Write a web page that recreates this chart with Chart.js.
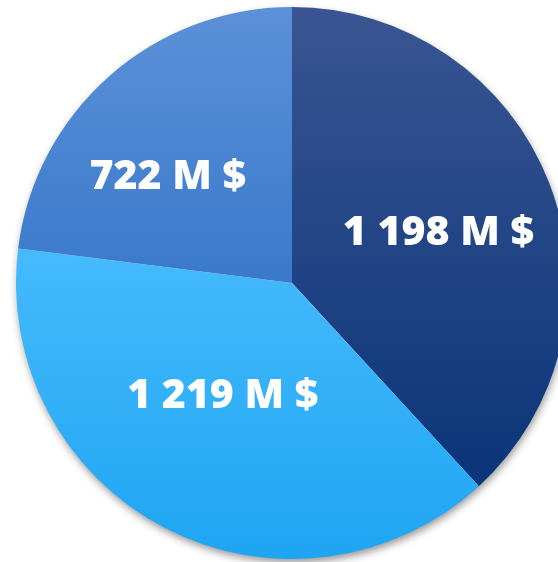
<!DOCTYPE html>
<html lang="en">
<head>
    <meta charset="UTF-8">
    <title>Pie</title>
    <script src="https://cdn.jsdelivr.net/npm/chart.js"></script>
    <style>
        html, body { margin: 0; padding: 0; background: #fff; overflow: hidden; }
        #wrap { position: relative; width: 558px; height: 562px; }
    </style>
</head>
<body>
    <div id="wrap"><canvas id="pieChart"></canvas></div>

    <script>
        // Chart data
        const labels = ['A', 'B', 'C'];
        const values = [1198, 1219, 722];
        const valueLabels = ['1 198 M $', '1 219 M $', '722 M $'];

        // gradient stops per slice (top -> bottom of the slice)
        const topColors = ['#3a5592', '#46bafd', '#5c91d8'];
        const bottomColors = ['#0a3579', '#1ea5f2', '#3a79cb'];

        // label placement inside each slice: fraction along the arc, fraction of radius
        const labelPlace = [
            { t: 0.52, r: 0.56 },
            { t: 0.53, r: 0.48 },
            { t: 0.40, r: 0.59 }
        ];

        function sliceGradient(context) {
            const chart = context.chart;
            const arc = context.element;
            const i = context.dataIndex;
            if (!arc || !chart.chartArea || !arc.outerRadius) return topColors[i];
            const { x, y, outerRadius, startAngle, endAngle } = arc;
            // vertical extent of the slice
            let minY = y, maxY = y;
            for (let k = 0; k <= 40; k++) {
                const a = startAngle + (endAngle - startAngle) * k / 40;
                const py = y + Math.sin(a) * outerRadius;
                minY = Math.min(minY, py);
                maxY = Math.max(maxY, py);
            }
            if (!(maxY > minY)) return topColors[i];
            const g = chart.ctx.createLinearGradient(0, minY, 0, maxY);
            g.addColorStop(0, topColors[i]);
            g.addColorStop(1, bottomColors[i]);
            return g;
        }

        // soft shadow under the whole pie
        const pieShadow = {
            id: 'pieShadow',
            beforeDatasetsDraw(chart) {
                const arc = chart.getDatasetMeta(0).data[0];
                if (!arc) return;
                const ctx = chart.ctx;
                ctx.save();
                ctx.shadowColor = 'rgba(0,0,0,0.45)';
                ctx.shadowBlur = 8;
                ctx.shadowOffsetX = 1;
                ctx.shadowOffsetY = 4;
                ctx.fillStyle = '#ffffff';
                ctx.beginPath();
                ctx.arc(arc.x, arc.y, arc.outerRadius - 1, 0, Math.PI * 2);
                ctx.fill();
                ctx.restore();
            }
        };

        // value labels inside the slices
        const sliceLabels = {
            id: 'sliceLabels',
            afterDatasetsDraw(chart) {
                const ctx = chart.ctx;
                const meta = chart.getDatasetMeta(0);
                ctx.save();
                ctx.fillStyle = '#ffffff';
                ctx.font = '800 41px "Open Sans", sans-serif';
                ctx.textAlign = 'center';
                ctx.textBaseline = 'middle';
                meta.data.forEach((arc, i) => {
                    const p = labelPlace[i];
                    const a = arc.startAngle + (arc.endAngle - arc.startAngle) * p.t;
                    const r = arc.outerRadius * p.r;
                    ctx.fillText(valueLabels[i], arc.x + Math.cos(a) * r, arc.y + Math.sin(a) * r);
                });
                ctx.restore();
            }
        };

        const ctx = document.getElementById('pieChart').getContext('2d');
        const chart = new Chart(ctx, {
            type: 'pie',
            data: {
                labels: labels,
                datasets: [{
                    data: values,
                    backgroundColor: sliceGradient,
                    borderWidth: 0
                }]
            },
            options: {
                responsive: true,
                maintainAspectRatio: false,
                animation: false,
                radius: 276,
                layout: { padding: { left: 26, top: 4, right: 0, bottom: 0 } },
                plugins: {
                    legend: { display: false },
                    tooltip: { enabled: false }
                }
            },
            plugins: [pieShadow, sliceLabels]
        });
        // second pass so the gradients can use the arc geometry
        chart.update();
    </script>
</body>
</html>
